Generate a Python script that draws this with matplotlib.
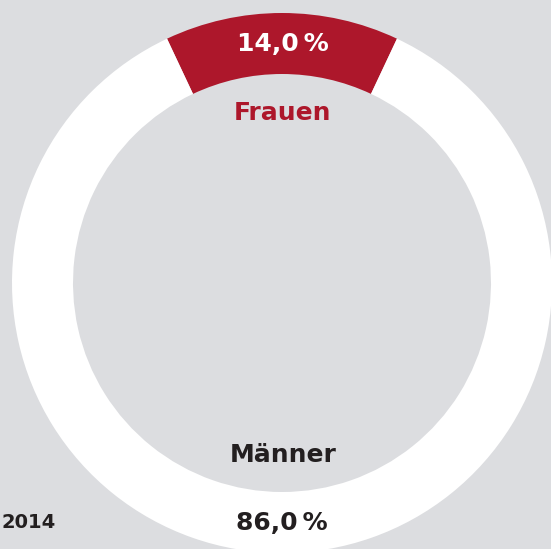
import matplotlib
matplotlib.use("Agg")
import matplotlib.pyplot as plt

categories = ["Frauen", "Männer"]
values = [14.0, 86.0]
value_labels = ["14,0\u2009%", "86,0\u2009%"]
year_label = "2014"

BG = "#dcdde0"
RED = "#ad172b"
DARK = "#231f20"

W, H = 551, 549
fig = plt.figure(figsize=(W / 100, H / 100), dpi=100, facecolor=BG)
ax = fig.add_axes([0, 0, 1, 1])
ax.set_facecolor(BG)

cx, cy = 282, H - 283
r_out, width = 270, 61
start = 90 - values[0] / sum(values) * 360 / 2
ax.pie(values, colors=[RED, "white"], startangle=start, counterclock=True,
       center=(cx, cy), radius=r_out, wedgeprops=dict(width=width, linewidth=0),
       frame=False)
ax.set_xlim(0, W)
ax.set_ylim(0, H)
ax.set_aspect("equal")
ax.axis("off")

font = dict(family="DejaVu Sans", fontweight="bold", fontsize=18, ha="center", va="center")
ax.text(283, H - 44, value_labels[0], color="white", **font)
ax.text(283, H - 113, categories[0], color=RED, **font)
ax.text(283, H - 455, categories[1], color=DARK, **font)
ax.text(282, H - 523, value_labels[1], color=DARK, **font)
ax.text(56, H - 522, year_label, color=DARK, family="DejaVu Sans", fontweight="bold",
        fontsize=14, ha="right", va="center")

fig.savefig("out.png", dpi=100, facecolor=BG)
